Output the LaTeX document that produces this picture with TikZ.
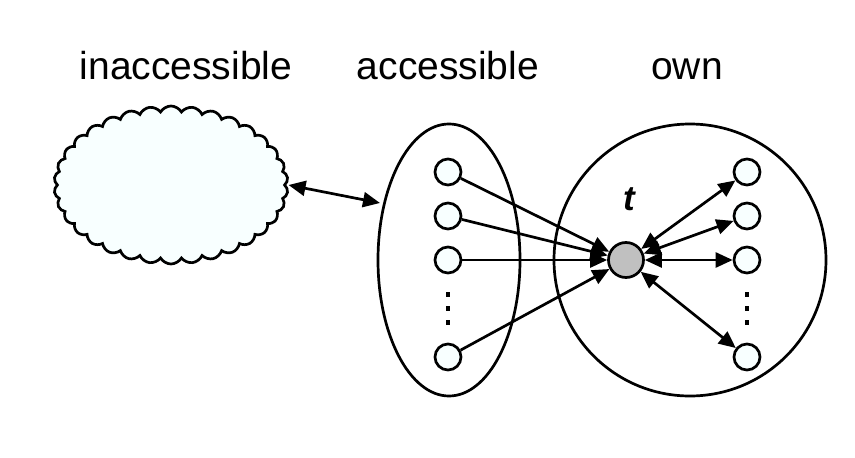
\documentclass[tikz,border=0pt]{standalone}
\usepackage{fontspec}
\setmainfont{Liberation Sans}
\usetikzlibrary{shapes.symbols,arrows.meta}
\definecolor{paleCyan}{HTML}{F8FFFF}
\definecolor{midGray}{HTML}{C0C0C0}
\tikzset{
  lbl/.style={font=\fontsize{39}{44}\selectfont, anchor=base, inner sep=0pt},
  member/.style={circle, draw, line width=2.7pt, fill=paleCyan, minimum size=26pt, inner sep=0pt},
  target/.style={circle, draw, line width=2.7pt, fill=midGray, minimum size=35pt, inner sep=0pt},
  link/.style={line width=2.7pt, -{Triangle[length=17pt,width=15pt]}},
  blink/.style={line width=2.7pt, {Triangle[length=17pt,width=15pt]}-{Triangle[length=17pt,width=15pt]}},
  grp/.style={draw, line width=2.7pt},
}
\begin{document}
\begin{tikzpicture}[x=1pt,y=-1pt]
\useasboundingbox (0,0) rectangle (855,458);
% labels
\node[lbl] (Linacc) at (186,79) {inaccessible};
\node[lbl] (Lacc) at (448,79) {accessible};
\node[lbl] (Lown) at (687,79) {own};
% cloud
\node[cloud, cloud puffs=34, cloud puff arc=120, cloud ignores aspect, draw, line width=2.7pt, fill=paleCyan,
      minimum width=234pt, minimum height=158pt, inner sep=0pt] (cloud) at (171,185) {};
% groups
\draw[grp] (449,260) ellipse [x radius=71, y radius=136];
\node[grp, circle, minimum size=272pt, inner sep=0pt] (owncirc) at (690,260) {};
\coordinate (accL) at (380,203);
% target
\node[target] (t) at (626,260) {};
\node[font=\fontsize{35}{38}\selectfont\bfseries\itshape, inner sep=0pt] (tlabel) at (629,199) {t};
% accessible members
\node[member] (a1) at (448,172) {};
\node[member] (a2) at (448,216) {};
\node[member] (a3) at (448,260) {};
\node[member] (a4) at (448,357) {};
% own members
\node[member] (o1) at (747,172) {};
\node[member] (o2) at (747,216) {};
\node[member] (o3) at (747,260) {};
\node[member] (o4) at (747,357) {};
% dots
\foreach \x in {448,747}{
  \foreach \y in {294,308,322}{
    \fill (\x-2,\y-2.5) rectangle (\x+2,\y+2.5);
  }
}
% connectors
\draw[blink] (cloud.east) ++(2,0) coordinate (cE) (cE) -- (accL);
\foreach \n in {a1,a2,a3,a4}{ \draw[link] (\n) -- (t); }
\foreach \n in {o1,o2,o3,o4}{ \draw[blink] (t) -- (\n); }
\end{tikzpicture}
\end{document}
